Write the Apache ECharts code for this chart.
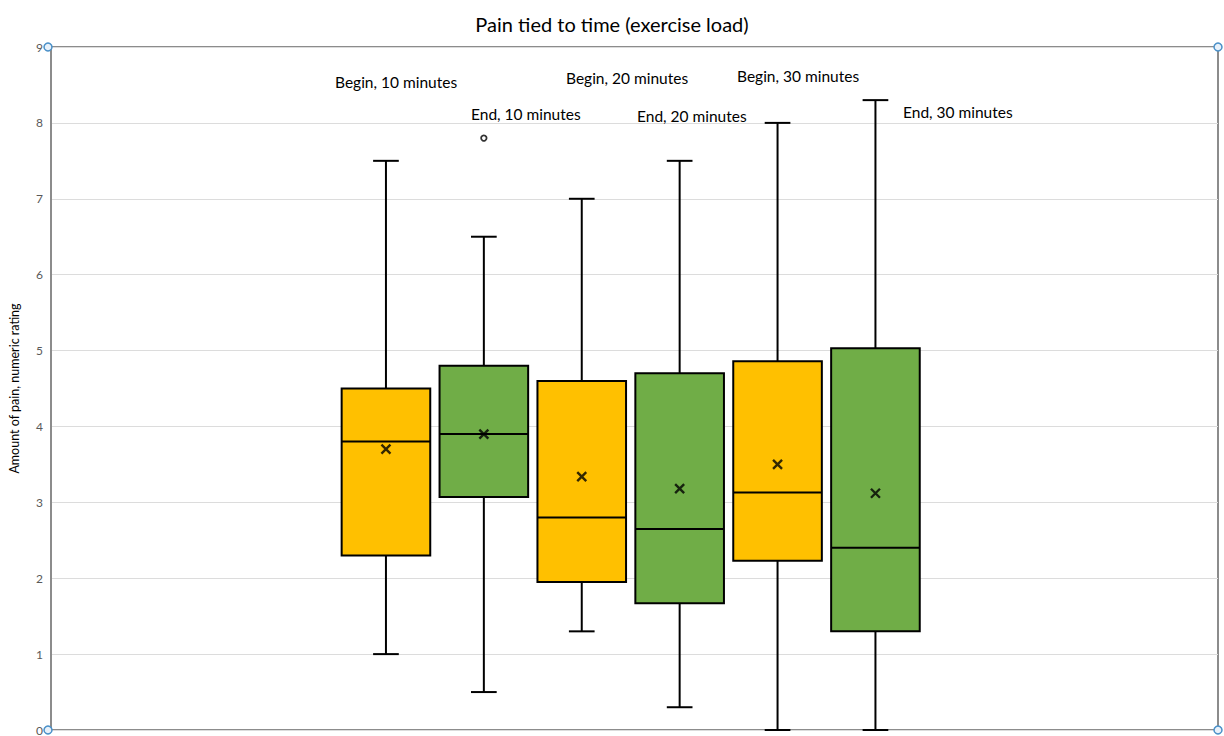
<!DOCTYPE html>
<html><head><meta charset="utf-8">
<script src="https://cdn.jsdelivr.net/npm/echarts@6/dist/echarts.min.js"></script>
<style>html,body{margin:0;padding:0;background:#fff}#c{width:1224px;height:736px}</style>
</head><body><div id="c"></div>
<script>
// ---- data ----
const categories   = ['Begin, 10 minutes','End, 10 minutes','Begin, 20 minutes','End, 20 minutes','Begin, 30 minutes','End, 30 minutes'];
const minValues    = [1.0, 0.5, 1.3, 0.3, 0.0, 0.0];
const q1Values     = [2.3, 3.07, 1.95, 1.67, 2.23, 1.3];
const medianValues = [3.8, 3.9, 2.8, 2.65, 3.13, 2.4];
const q3Values     = [4.5, 4.8, 4.6, 4.7, 4.86, 5.03];
const maxValues    = [7.5, 6.5, 7.0, 7.5, 8.0, 8.3];
const meanValues   = [3.7, 3.9, 3.34, 3.18, 3.5, 3.12];
const outlierCategory = [1];
const outlierValues   = [7.8];
const yTickLabels  = ['0','1','2','3','4','5','6','7','8','9'];

// ---- styles / layout (not data) ----
const boxPalette = ['#FFC000', '#70AD47'];
const FONT = 'Lato, "Open Sans", sans-serif';
const labelLayout = [
  {x: 335, y: 82}, {x: 471, y: 114}, {x: 566, y: 78},
  {x: 637, y: 116}, {x: 737, y: 76}, {x: 903, y: 112}
];
const frame = {left: 48, top: 47, right: 1218, bottom: 730};

const chart = echarts.init(document.getElementById('c'), null, {renderer: 'svg'});

const boxData = categories.map((c, i) => [i, minValues[i], q1Values[i], medianValues[i], q3Values[i], maxValues[i]]);
const meanData = categories.map((c, i) => [i, meanValues[i]]);
const outlierData = outlierCategory.map((c, i) => [c, outlierValues[i]]);

const graphics = categories.map((name, i) => ({
  type: 'text', x: labelLayout[i].x, y: labelLayout[i].y, z: 100,
  style: {text: name, fontSize: 15.5, fontFamily: FONT, fill: '#000', align: 'left', verticalAlign: 'middle'}
}));
[[frame.left, frame.top], [frame.right, frame.top], [frame.left, frame.bottom], [frame.right, frame.bottom]].forEach(p => {
  graphics.push({type: 'circle', z: 100, shape: {cx: p[0], cy: p[1], r: 4},
    style: {fill: '#e8f1fa', stroke: '#4a90c8', lineWidth: 1.5}});
});

chart.setOption({
  animation: false,
  backgroundColor: '#fff',
  title: {
    text: 'Pain tied to time (exercise load)', left: 'center', top: 9,
    textStyle: {fontSize: 20, fontWeight: 'normal', color: '#000', fontFamily: FONT}
  },
  grid: [
    {left: 48, top: 47, right: 6, bottom: 6, show: true, borderColor: '#8c8c8c', borderWidth: 2, containLabel: false},
    {left: 337, width: 587.4, top: 47, bottom: 6, containLabel: false}
  ],
  xAxis: [
    {type: 'value', gridIndex: 0, min: 0, max: 1, show: false},
    {type: 'category', gridIndex: 1, data: categories, show: false}
  ],
  yAxis: [
    {
      type: 'value', gridIndex: 0, min: 0, max: 9, interval: 1,
      name: 'Amount of pain, numeric rating', nameLocation: 'middle', nameGap: 30,
      nameTextStyle: {fontSize: 12.5, color: '#000', fontFamily: FONT},
      axisLine: {show: true, lineStyle: {color: '#8c8c8c', width: 2}},
      axisTick: {show: false},
      axisLabel: {color: '#595959', fontSize: 12, margin: 8, fontFamily: FONT,
        formatter: v => yTickLabels[Math.round(v)] ?? ''},
      splitLine: {show: true, lineStyle: {color: '#dcdcdc', width: 1}}
    },
    {type: 'value', gridIndex: 1, min: 0, max: 9, show: false, splitLine: {show: false}}
  ],
  series: [
    {
      type: 'custom', xAxisIndex: 1, yAxisIndex: 1, z: 3,
      data: boxData,
      encode: {x: 0, y: [1, 2, 3, 4, 5]},
      renderItem: function (params, api) {
        const i = api.value(0);
        const band = api.size([1, 0])[0];
        const bw = band * 0.905;
        const cw = bw * 0.29;
        const pMin = api.coord([i, api.value(1)]);
        const pQ1 = api.coord([i, api.value(2)]);
        const pMed = api.coord([i, api.value(3)]);
        const pQ3 = api.coord([i, api.value(4)]);
        const pMax = api.coord([i, api.value(5)]);
        const cx = pMin[0];
        const ls = {stroke: '#000', lineWidth: 2};
        return {
          type: 'group',
          children: [
            {type: 'line', shape: {x1: cx, y1: pMax[1], x2: cx, y2: pQ3[1]}, style: ls},
            {type: 'line', shape: {x1: cx, y1: pQ1[1], x2: cx, y2: pMin[1]}, style: ls},
            {type: 'line', shape: {x1: cx - cw / 2, y1: pMax[1], x2: cx + cw / 2, y2: pMax[1]}, style: ls},
            {type: 'line', shape: {x1: cx - cw / 2, y1: pMin[1], x2: cx + cw / 2, y2: pMin[1]}, style: ls},
            {type: 'rect', shape: {x: cx - bw / 2, y: pQ3[1], width: bw, height: pQ1[1] - pQ3[1]},
              style: {fill: boxPalette[i % 2], stroke: '#000', lineWidth: 2}},
            {type: 'line', shape: {x1: cx - bw / 2, y1: pMed[1], x2: cx + bw / 2, y2: pMed[1]}, style: ls}
          ]
        };
      }
    },
    {
      type: 'scatter', xAxisIndex: 1, yAxisIndex: 1, z: 5,
      data: meanData,
      symbol: 'path://M0,0L10,10M10,0L0,10', symbolSize: 9,
      itemStyle: {color: 'none', borderColor: '#000', borderWidth: 2.4}
    },
    {
      type: 'scatter', xAxisIndex: 1, yAxisIndex: 1, z: 5,
      data: outlierData,
      symbol: 'circle', symbolSize: 5.5,
      itemStyle: {color: '#fff', borderColor: '#000', borderWidth: 1.8}
    }
  ],
  graphic: graphics
});
</script>
</body></html>
